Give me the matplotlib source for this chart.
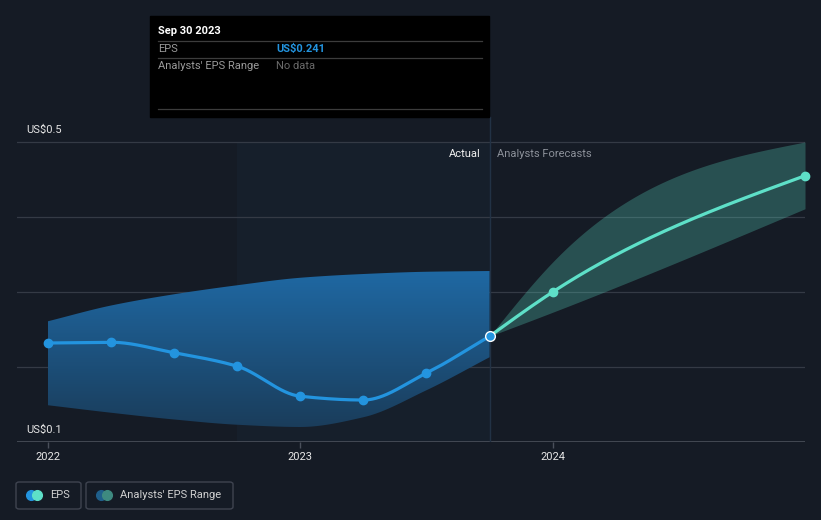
import numpy as np
import matplotlib.pyplot as plt
from matplotlib.patches import Rectangle, FancyBboxPatch
from matplotlib.colors import LinearSegmentedColormap

plt.rcParams['font.family'] = ['Roboto', 'DejaVu Sans']

# data (fractional years)
eps_t = [2022.0, 2022.25, 2022.5, 2022.75, 2023.0, 2023.25, 2023.5, 2023.75]
eps_v = [0.232, 0.233, 0.219, 0.201, 0.161, 0.156, 0.192, 0.241]
band_hi = [0.261, 0.282, 0.297, 0.309, 0.319, 0.324, 0.327, 0.328]
band_lo = [0.149, 0.139, 0.130, 0.123, 0.120, 0.133, 0.169, 0.213]

fc_t = [2023.75, 2024.0, 2025.0]
fc_v = [0.241, 0.300, 0.455]
fc_hi = [0.241, 0.340, 0.500]
fc_lo = [0.241, 0.273, 0.411]

BG = '#151b25'
BLUE = '#2394df'
AQUA = '#5ee0c8'


def smooth(x, y, n=200):
    # monotone cubic hermite curve through the points, for drawing only
    x = np.asarray(x, float)
    y = np.asarray(y, float)
    h = np.diff(x)
    d = np.diff(y) / h
    m = np.zeros_like(y)
    m[0], m[-1] = d[0], d[-1]
    for i in range(1, len(y) - 1):
        if d[i - 1] * d[i] <= 0:
            m[i] = 0
        else:
            w1 = 2 * h[i] + h[i - 1]
            w2 = h[i] + 2 * h[i - 1]
            m[i] = (w1 + w2) / (w1 / d[i - 1] + w2 / d[i])
    xs, ys = [], []
    for i in range(len(x) - 1):
        s = np.linspace(0, 1, n, endpoint=(i == len(x) - 2))
        h00 = 2 * s**3 - 3 * s**2 + 1
        h10 = s**3 - 2 * s**2 + s
        h01 = -2 * s**3 + 3 * s**2
        h11 = s**3 - s**2
        xs.append(x[i] + s * h[i])
        ys.append(h00 * y[i] + h10 * h[i] * m[i] + h01 * y[i + 1] + h11 * h[i] * m[i + 1])
    return np.concatenate(xs), np.concatenate(ys)


def natural(x, y, n=300):
    # natural cubic spline, for drawing only
    x = np.asarray(x, float)
    y = np.asarray(y, float)
    k = len(x)
    h = np.diff(x)
    A = np.zeros((k, k))
    r = np.zeros(k)
    A[0, 0] = A[-1, -1] = 1
    for i in range(1, k - 1):
        A[i, i - 1] = h[i - 1]
        A[i, i] = 2 * (h[i - 1] + h[i])
        A[i, i + 1] = h[i]
        r[i] = 6 * ((y[i + 1] - y[i]) / h[i] - (y[i] - y[i - 1]) / h[i - 1])
    M = np.linalg.solve(A, r)
    xs = np.linspace(x[0], x[-1], n)
    idx = np.clip(np.searchsorted(x, xs) - 1, 0, k - 2)
    a = x[idx + 1] - xs
    b = xs - x[idx]
    hh = h[idx]
    ys = (M[idx] * a**3 / (6 * hh) + M[idx + 1] * b**3 / (6 * hh)
          + (y[idx] / hh - M[idx] * hh / 6) * a + (y[idx + 1] / hh - M[idx + 1] * hh / 6) * b)
    return xs, ys


fig = plt.figure(figsize=(8.21, 5.2), dpi=100)
fig.patch.set_facecolor(BG)

x0 = 2022 - 31 / 252.5
ax = fig.add_axes([17 / 821, 78 / 520, 788 / 821, 442 / 520])
ax.set_facecolor(BG)
for s in ax.spines.values():
    s.set_visible(False)

# past-year highlight
ax.add_patch(Rectangle((2022.75, 0.1), 1.0, 0.4, color='#161f2b', zorder=0, lw=0))

# gridlines
for g in [0.2, 0.3, 0.4, 0.5]:
    ax.axhline(g, color='#343a45', lw=0.9, zorder=1)
ax.axhline(0.1, color='#4a505b', lw=1.2, zorder=1)

# past range band with vertical gradient
bx, bh = smooth(eps_t, band_hi)
_, bl = smooth(eps_t, band_lo)
poly = ax.fill_between(bx, bl, bh, color='none', lw=0, zorder=2)
grad = np.linspace(0, 1, 256).reshape(-1, 1)
cmap = LinearSegmentedColormap.from_list('b', ['#1a3b58', '#1f6aa6'])
im = ax.imshow(grad, extent=[2022.0, 2023.75, 0.11, 0.335], origin='lower',
               cmap=cmap, aspect='auto', zorder=2)
im.set_clip_path(poly.get_paths()[0], transform=ax.transData)

# forecast band
fx, fh = natural(fc_t, fc_hi)
_, fl = natural(fc_t, fc_lo)
ax.fill_between(fx, fl, fh, color=AQUA, alpha=0.27, lw=0, zorder=2)

# lines
ex, ev = smooth(eps_t, eps_v)
ax.plot(ex, ev, color=BLUE, lw=2.3, zorder=4, solid_capstyle='round')
ax.plot(eps_t[:-1], eps_v[:-1], 'o', color=BLUE, ms=6, zorder=5)
gx, gv = natural(fc_t, fc_v)
ax.plot(gx, gv, color=AQUA, lw=2.3, zorder=4, solid_capstyle='round')
ax.plot(fc_t[1:], fc_v[1:], 'o', color=AQUA, ms=6, zorder=5, clip_on=False)
ax.plot(eps_t[-1], eps_v[-1], 'o', color=BLUE, mec='white', mew=1.0, ms=7, zorder=6)

# hover line
ax.plot([2023.75, 2023.75], [0.1, 0.1 + 325 / 750], color='#223245', lw=1, zorder=1)

ax.set_xlim(x0, 2025.0)
ax.set_ylim(0.1, 0.1 + 442 / 750)

# ticks
ax.set_xticks([2022, 2023, 2024])
ax.set_xticklabels(['2022', '2023', '2024'])
ax.tick_params(axis='x', colors='#4a505b', labelcolor='#e6e6e6', labelsize=8, length=4, width=1, pad=3)
ax.set_yticks([])

fig.text(26 / 821, 1 - 130 / 520, 'US$0.5', color='#e6e6e6', fontsize=8, va='center')
fig.text(26 / 821, 1 - 430 / 520, 'US$0.1', color='#e6e6e6', fontsize=8, va='center')
fig.text(481 / 821, 1 - 154 / 520, 'Actual', color='#f0f0f0', fontsize=8, va='center', ha='right')
fig.text(497 / 821, 1 - 154 / 520, 'Analysts Forecasts', color='#8c919a', fontsize=8, va='center')

# tooltip
fig.patches.append(Rectangle((150 / 821, 1 - 117 / 520), 339 / 821, 101 / 520,
                             transform=fig.transFigure, color='black', zorder=10))
for yy in [41, 58, 109]:
    fig.lines.append(plt.Line2D([158 / 821, 482 / 821], [1 - yy / 520] * 2,
                                transform=fig.transFigure, color='#3c3c3c', lw=0.9, zorder=11))
fig.text(158 / 821, 1 - 31 / 520, 'Sep 30 2023', color='white', fontsize=8, va='center',
         fontweight='bold', zorder=12)
fig.text(158 / 821, 1 - 49 / 520, 'EPS', color='#9a9a9a', fontsize=8, va='center', zorder=12)
fig.text(276 / 821, 1 - 49 / 520, 'US$0.241', color=BLUE, fontsize=8, va='center',
         fontweight='bold', zorder=12)
fig.text(158 / 821, 1 - 66 / 520, "Analysts' EPS Range", color='#9a9a9a', fontsize=8, va='center', zorder=12)
fig.text(276 / 821, 1 - 66 / 520, 'No data', color='#6a6a6a', fontsize=8, va='center', zorder=12)


# legend
def legend_box(x, w, c1, c2, label):
    fig.patches.append(FancyBboxPatch((x / 821, 1 - 509 / 520), w / 821, 27 / 520,
                                      boxstyle='round,pad=0,rounding_size=0.004',
                                      transform=fig.transFigure, fc='none', ec='#3f4450', lw=1))
    fig.lines.append(plt.Line2D([(x + 15) / 821], [1 - 495 / 520], transform=fig.transFigure,
                                marker='o', ms=7, color=c1, lw=0, zorder=3))
    fig.lines.append(plt.Line2D([(x + 21) / 821], [1 - 495 / 520], transform=fig.transFigure,
                                marker='o', ms=7, color=c2, lw=0, zorder=4))
    fig.text((x + 34) / 821, 1 - 495 / 520, label, color='#d0d0d0', fontsize=8, va='center')


legend_box(16, 65, BLUE, AQUA, 'EPS')
legend_box(86, 147, '#1f5f8b', '#3e8a80', "Analysts' EPS Range")

fig.savefig('out.png', dpi=100, facecolor=BG)
